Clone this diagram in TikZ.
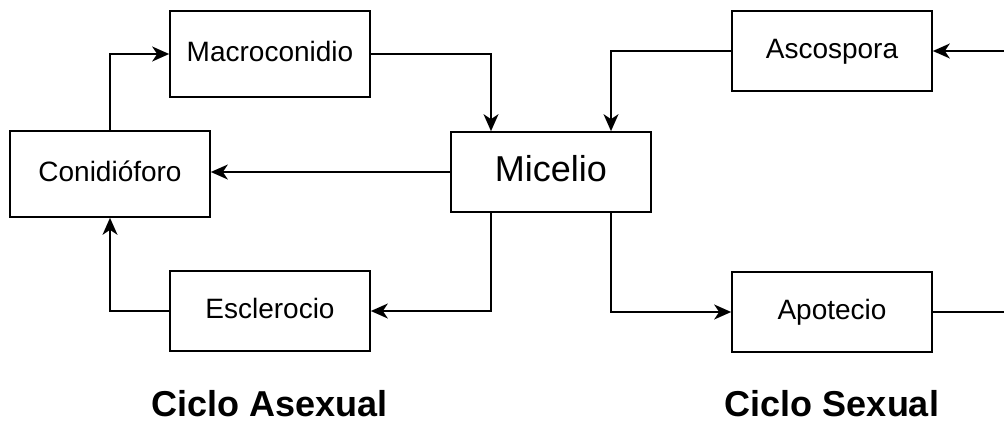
\documentclass[tikz,border=0pt]{standalone}
\usepackage{fontspec}
\setmainfont{Liberation Sans}
\usepackage{tikz}
\usetikzlibrary{arrows.meta,positioning}
\tikzstyle{block} = [draw, line width=1.7pt, fill=white, rectangle,
    minimum height=80pt, minimum width=200pt, text height=20pt, text depth=6pt,
    font=\fontsize{28}{32}\selectfont]
\tikzstyle{tall} = [minimum height=86pt]
\tikzstyle{bigblock} = [block, text height=26pt, text depth=8pt,
    font=\fontsize{36}{40}\selectfont]
\tikzstyle{title} = [anchor=base, font=\fontsize{36}{40}\selectfont\bfseries]
\tikzstyle{wire} = [line width=1.7pt]
\tikzstyle{output} = [coordinate]

\begin{document}
\begin{tikzpicture}[x=1pt, y=-1pt, node distance=100pt,
    >={Stealth[length=17pt,width=15pt,inset=5pt]}]
    \useasboundingbox (0,0) rectangle (1004,423);
    \node [block, tall] (cond) at (110,174) {Conidióforo};
    \node [block, tall] (macro) at (270,54) {Macroconidio};
    \node [block, below of=macro, node distance=257pt] (escl) {Esclerocio};
    \node [bigblock] (mic) at (551,172) {Micelio};
    \node [block] (asco) at (832,51) {Ascospora};
    \node [block, below of=asco, node distance=261pt] (apot) {Apotecio};
    \node [output] (inasco) at (1004,51) {};
    \node [output] (outapot) at (1004,312) {};
    \node [title] (asex) at (270,416) {Ciclo Asexual};
    \node [title, right of=asex, node distance=562pt] (sex) {Ciclo Sexual};
    \draw [->,wire] (mic.west) -- (mic.west -| cond.east);
    \draw [->,wire] (cond.north) |- (macro.west);
    \draw [->,wire] (macro.east) -| ([xshift=-60pt]mic.north);
    \draw [->,wire] (asco.west) -| ([xshift=60pt]mic.north);
    \draw [->,wire] ([xshift=-60pt]mic.south) |- (escl.east);
    \draw [->,wire] ([xshift=60pt]mic.south) |- (apot.west);
    \draw [->,wire] (escl.west) -| (cond.south);
    \draw [->,wire] (inasco) -- (asco.east);
    \draw [wire] (apot.east) -- (outapot);
\end{tikzpicture}
\end{document}
